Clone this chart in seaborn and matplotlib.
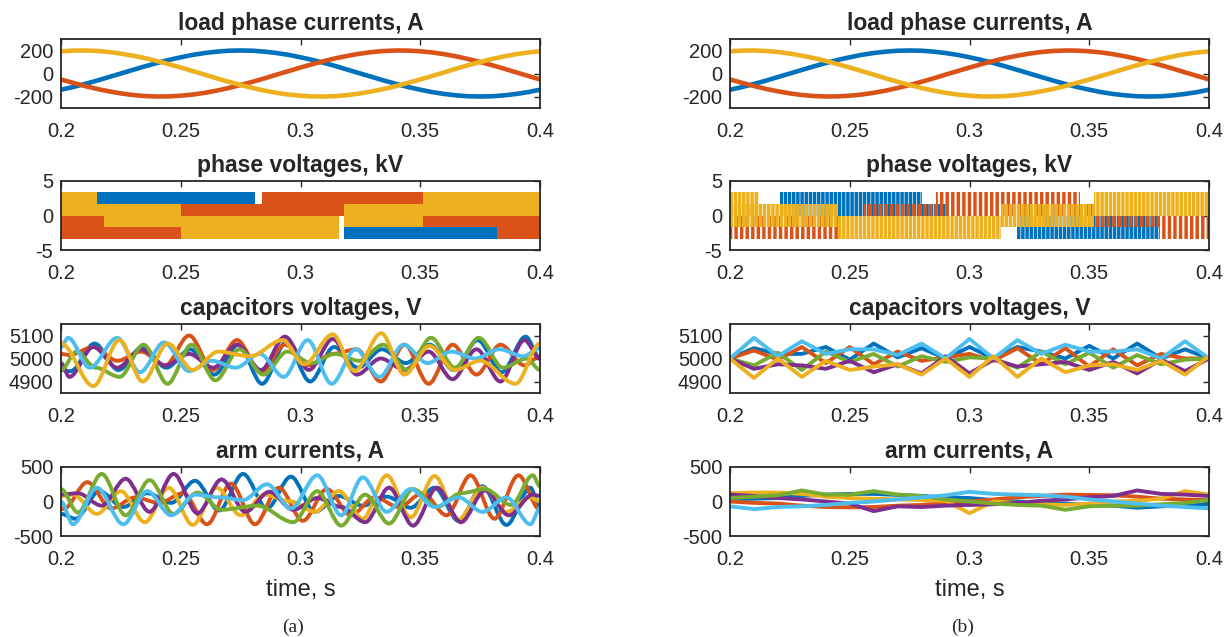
import matplotlib
matplotlib.use('Agg')
import matplotlib.pyplot as plt
from matplotlib.path import Path
from matplotlib.patches import PathPatch
import seaborn as sns
import pandas as pd

sns.set_theme(style='white')
plt.rcParams['font.family'] = ['Liberation Sans', 'DejaVu Sans']
plt.rcParams['axes.unicode_minus'] = False

colores = ['#0072BD', '#D95319', '#EDB120', '#7E2F8E', '#77AC30', '#4DBEEE']

# corrientes de carga (iguales en (a) y (b)), muestras cada 5 ms
t_carga = [0.2 + 0.005 * k for k in range(41)]
i_carga_a = [-141, -118, -91, -62, -31, 0, 31, 62, 91, 118, 141, 162, 178, 190, 198, 200, 198, 190, 178, 162,
             141, 118, 91, 62, 31, 0, -31, -62, -91, -118, -141, -162, -178, -190, -198, -200, -198, -190, -178, -162, -141]
i_carga_b = [-52, -81, -109, -134, -155, -173, -187, -196, -200, -199, -193, -183, -168, -149, -126, -100, -72, -42, -10, 21,
             52, 81, 109, 134, 155, 173, 187, 196, 200, 199, 193, 183, 168, 149, 126, 100, 72, 42, 10, -21, -52]
i_carga_c = [193, 199, 200, 196, 187, 173, 155, 134, 109, 81, 52, 21, -10, -42, -72, -100, -126, -149, -168, -183,
             -193, -199, -200, -196, -187, -173, -155, -134, -109, -81, -52, -21, 10, 42, 72, 100, 126, 149, 168, 183, 193]

# tensiones de fase (a): tramos (inicio, fin, nivel bajo, nivel alto) en kV
vf_a_fase1 = [(0.200, 0.215, -1.7, 0.0), (0.215, 0.281, 1.7, 3.4), (0.281, 0.318, 0.0, 1.7),
              (0.318, 0.382, -3.4, -1.7), (0.382, 0.400, -1.7, 0.0)]
vf_a_fase2 = [(0.200, 0.218, -3.4, 0.0), (0.218, 0.250, -3.4, -1.7), (0.250, 0.284, 0.0, 1.7),
              (0.284, 0.318, 0.0, 3.4), (0.318, 0.351, 1.7, 3.4), (0.351, 0.382, -1.7, 0.0), (0.382, 0.400, -3.4, 0.0)]
vf_a_fase3 = [(0.200, 0.215, 0.0, 3.4), (0.215, 0.218, 0.0, 1.7), (0.218, 0.250, -1.7, 1.7),
              (0.250, 0.316, -3.4, 0.0), (0.318, 0.351, -1.7, 1.7), (0.351, 0.400, 0.0, 3.4)]

# tensiones de fase (b)
vf_b_fase1 = [(0.221, 0.280, 0.0, 3.4), (0.280, 0.290, 0.0, 1.7), (0.320, 0.379, -3.4, 0.0)]
vf_b_fase2 = [(0.200, 0.246, -3.4, 0.0), (0.256, 0.286, 0.0, 1.7), (0.286, 0.346, 0.0, 3.4),
              (0.346, 0.352, 0.0, 1.7), (0.352, 0.379, -1.7, 0.0), (0.379, 0.400, -3.4, 0.0)]
vf_b_fase3 = [(0.200, 0.212, 0.0, 3.4), (0.200, 0.245, -1.7, 1.7), (0.245, 0.313, -3.4, 0.0),
              (0.313, 0.352, -1.7, 1.7), (0.352, 0.400, 0.0, 3.4)]

# tensiones de condensadores (a): extremos (tiempo, valor)
tc_a1 = [0.2, 0.204, 0.214, 0.224, 0.234, 0.244, 0.254, 0.264, 0.274, 0.284, 0.294, 0.304, 0.314, 0.324, 0.334, 0.344, 0.354, 0.364, 0.374, 0.384, 0.394, 0.4]
vc_a1 = [4950, 4945, 5065, 4950, 5050, 4960, 5040, 4930, 5060, 4890, 5070, 4900, 5050, 4960, 5040, 4980, 5060, 4950, 5080, 4940, 5095, 5000]
tc_a2 = [0.2, 0.2035, 0.2135, 0.2235, 0.2335, 0.2435, 0.2535, 0.2635, 0.2735, 0.2835, 0.2935, 0.3035, 0.3135, 0.3235, 0.3335, 0.3435, 0.3535, 0.3635, 0.3735, 0.3835, 0.3935, 0.4]
vc_a2 = [5020, 5015, 5050, 4990, 5030, 4970, 5100, 4950, 5080, 4940, 5060, 4970, 5020, 5040, 4900, 5060, 4890, 5060, 4930, 5060, 4970, 5010]
tc_a3 = [0.2, 0.2135, 0.2244, 0.2341, 0.2446, 0.255, 0.2656, 0.279, 0.2925, 0.3015, 0.3135, 0.3225, 0.3337, 0.3434, 0.3539, 0.3644, 0.375, 0.3898, 0.4]
vc_a3 = [5065, 4880, 5080, 4900, 5065, 4950, 5030, 5010, 5080, 4975, 5105, 4945, 5110, 4930, 5055, 4950, 4990, 4890, 5065]
tc_a4 = [0.2, 0.2035, 0.2135, 0.2235, 0.2335, 0.2435, 0.2535, 0.2635, 0.2735, 0.2835, 0.2935, 0.3035, 0.3135, 0.3235, 0.3335, 0.3435, 0.3535, 0.3635, 0.3735, 0.3835, 0.3935, 0.4]
vc_a4 = [4980, 4920, 5050, 4960, 5040, 4970, 5020, 4960, 5060, 4950, 5095, 4950, 5085, 4930, 5000, 4950, 5030, 4910, 5040, 4900, 5080, 5000]
tc_a5 = [0.2, 0.2065, 0.2145, 0.2245, 0.2345, 0.2445, 0.2545, 0.2645, 0.2745, 0.2845, 0.2945, 0.3045, 0.3145, 0.3245, 0.3345, 0.3445, 0.3545, 0.3645, 0.3745, 0.3845, 0.3945, 0.4]
vc_a5 = [4950, 5030, 4960, 4920, 5060, 4890, 5060, 4905, 5040, 4930, 5030, 4980, 5020, 4990, 5060, 4950, 5090, 4960, 5090, 4960, 5000, 4950]
tc_a6 = [0.2, 0.203, 0.212, 0.2235, 0.233, 0.243, 0.2535, 0.263, 0.273, 0.283, 0.293, 0.303, 0.313, 0.323, 0.333, 0.343, 0.353, 0.363, 0.373, 0.383, 0.393, 0.4]
vc_a6 = [5050, 5090, 4960, 5090, 4940, 5070, 4945, 4990, 4960, 5020, 4920, 5080, 4890, 5040, 4920, 5060, 4980, 5030, 5000, 5040, 5010, 5045]

# corrientes de brazo (a): extremos (tiempo, valor)
tb_a1 = [0.2, 0.206, 0.216, 0.226, 0.236, 0.246, 0.256, 0.266, 0.276, 0.286, 0.296, 0.306, 0.316, 0.326, 0.336, 0.346, 0.356, 0.366, 0.376, 0.386, 0.396, 0.4]
ib_a1 = [-180, -250, 150, -80, 120, -20, 300, -130, 400, -100, 360, -150, 80, -60, 70, -90, 200, -280, 220, -340, 200, -100]
tb_a2 = [0.2, 0.201, 0.211, 0.221, 0.231, 0.241, 0.251, 0.261, 0.271, 0.281, 0.291, 0.301, 0.311, 0.321, 0.331, 0.341, 0.351, 0.361, 0.371, 0.381, 0.391, 0.4]
ib_a2 = [-100, -110, 280, -100, 60, -20, 120, -330, 260, -330, 200, -280, 180, -200, 60, -80, 120, -200, 380, -250, 380, -120]
tb_a3 = [0.2, 0.205, 0.215, 0.225, 0.235, 0.245, 0.255, 0.265, 0.275, 0.285, 0.296, 0.306, 0.316, 0.326, 0.336, 0.346, 0.356, 0.366, 0.376, 0.386, 0.396, 0.4]
ib_a3 = [80, 100, -180, 150, -300, 200, -340, 200, -200, 100, 0, -150, 150, -250, 380, -230, 370, -260, 200, -150, 60, 0]
tb_a4 = [0.2, 0.207, 0.217, 0.227, 0.237, 0.247, 0.257, 0.267, 0.277, 0.287, 0.297, 0.307, 0.317, 0.327, 0.337, 0.347, 0.357, 0.367, 0.377, 0.387, 0.397, 0.4]
ib_a4 = [100, 120, -60, 330, -150, 400, -170, 320, -150, 140, -120, 50, -80, -300, 200, -350, 200, -300, 160, -200, 100, 80]
tb_a5 = [0.2, 0.207, 0.217, 0.227, 0.237, 0.247, 0.257, 0.267, 0.282, 0.297, 0.307, 0.317, 0.327, 0.337, 0.347, 0.357, 0.367, 0.377, 0.388, 0.397, 0.4]
ib_a5 = [180, -160, 400, -200, 310, -180, 130, -120, -60, -300, 150, -350, 100, -320, 180, -80, 120, 180, -50, 380, 220]
tb_a6 = [0.2, 0.205, 0.215, 0.226, 0.236, 0.246, 0.256, 0.266, 0.276, 0.286, 0.296, 0.307, 0.317, 0.326, 0.336, 0.346, 0.356, 0.366, 0.376, 0.386, 0.396, 0.4]
ib_a6 = [0, -330, 200, -330, 150, -200, 100, 60, 20, 250, -100, 380, -200, 350, -150, 180, -80, 60, -150, 60, -330, -100]

# tensiones de condensadores (b): vertices cada 10 ms
t_b = [0.2 + 0.01 * k for k in range(21)]
vc_b1 = [5000, 5045, 5020, 5020, 5050, 4995, 5065, 5005, 5045, 5000, 5050, 5000, 5050, 5030, 5000, 5055, 5000, 5065, 5000, 5040, 5000]
vc_b2 = [5000, 5035, 4995, 5050, 4980, 5050, 4975, 5030, 4990, 5005, 5020, 4990, 5045, 4975, 5045, 4965, 5040, 4970, 5020, 5000, 5000]
vc_b3 = [5000, 4915, 5000, 4920, 4990, 4950, 4965, 4975, 4930, 5000, 4920, 5010, 4920, 5000, 4940, 4970, 4975, 4950, 4990, 4930, 5010]
vc_b4 = [5000, 4955, 4975, 4970, 4955, 4990, 4940, 4975, 4935, 5010, 4935, 4995, 4965, 4975, 4985, 4950, 4985, 4935, 4995, 4945, 5000]
vc_b5 = [5000, 4970, 5025, 4950, 5030, 4985, 5020, 4965, 5010, 4985, 5005, 5000, 4960, 5030, 4975, 5025, 4960, 5015, 4975, 4995, 5000]
vc_b6 = [5000, 5090, 5010, 5075, 5020, 5040, 5040, 5015, 5065, 5000, 5085, 5000, 5080, 5020, 5060, 5030, 5030, 5040, 5000, 5075, 5000]

# corrientes de brazo (b)
ib_b1 = [30, 40, 50, 80, 100, 110, 110, 95, 80, 60, 50, 20, 0, -20, -30, -50, -60, -90, -70, -60, -40]
ib_b2 = [0, -20, -30, -60, -80, -85, -80, -60, -50, -20, 0, 30, 60, 80, 100, 95, 90, 70, 40, 30, 20]
ib_b3 = [120, 130, 130, 110, 70, 50, 40, 30, 20, 10, -170, 0, -20, -40, -50, -30, 0, 10, 40, 150, 100]
ib_b4 = [100, 80, 50, 30, 0, -30, -140, -70, -80, -60, -50, -40, -20, 10, 30, 60, 80, 160, 110, 100, 80]
ib_b5 = [50, 70, 90, 160, 100, 100, 150, 100, 80, 30, 0, -30, -50, -60, -120, -70, -60, -60, -40, -20, 20]
ib_b6 = [-70, -110, -80, -70, -50, -20, 0, 30, 60, 90, 140, 110, 100, 90, 70, 30, 0, -30, -60, -80, -100]

ticks_x = [0.2, 0.25, 0.3, 0.35, 0.4]
etiquetas_x = ['0.2', '0.25', '0.3', '0.35', '0.4']


def curva_suave(ax, tiempos, valores, color, lw=2.8):
    # curva con tangente horizontal en cada extremo
    verts = [(tiempos[0], valores[0])]
    codes = [Path.MOVETO]
    for i in range(1, len(tiempos)):
        t0, t1 = tiempos[i - 1], tiempos[i]
        dt = t1 - t0
        verts += [(t0 + dt / 3, valores[i - 1]), (t1 - dt / 3, valores[i]), (t1, valores[i])]
        codes += [Path.CURVE4] * 3
    ax.add_patch(PathPatch(Path(verts, codes), fill=False, edgecolor=color, lw=lw,
                           capstyle='butt', joinstyle='round', clip_on=True))


def formato(ax, titulo, ylim, yticks, ylabels):
    ax.set_xlim(0.2, 0.4)
    ax.set_ylim(*ylim)
    ax.set_xticks(ticks_x)
    ax.set_xticklabels(etiquetas_x)
    ax.set_yticks(yticks)
    ax.set_yticklabels(ylabels)
    ax.set_xlabel('')
    ax.set_ylabel('')
    ax.tick_params(direction='in', length=4, width=1, top=True, right=True,
                   labelsize=14.5, colors='#262626')
    ax.tick_params(axis='x', pad=10)
    ax.tick_params(axis='y', pad=5.5)
    for s in ax.spines.values():
        s.set_visible(True)
        s.set_linewidth(1.3)
        s.set_color('#262626')
    ax.set_title(titulo, fontsize=16.5, fontweight='bold', pad=6.5)
    if ax.get_legend() is not None:
        ax.get_legend().remove()


fig = plt.figure(figsize=(12.3, 6.37), dpi=100)
x_col = [61 / 1230, 730 / 1230]
ancho = 479 / 1230
tops = [39, 181, 324, 467]
alto = 69

ejes = [[fig.add_axes([x_col[c], 1 - (tops[r] + alto) / 637, ancho, alto / 637]) for r in range(4)] for c in range(2)]

df_carga = pd.DataFrame({'t': t_carga * 3,
                         'i': i_carga_a + i_carga_b + i_carga_c,
                         'fase': ['a'] * 41 + ['b'] * 41 + ['c'] * 41})

for c in range(2):
    ax = ejes[c][0]
    sns.lineplot(data=df_carga, x='t', y='i', hue='fase', palette=colores[:3], lw=3.3, ax=ax, legend=False)
    formato(ax, 'load phase currents, A', (-300, 300), [-200, 0, 200], ['-200', '0', '200'])

# tensiones de fase
ax = ejes[0][1]
for fase, color in zip([vf_a_fase1, vf_a_fase2, vf_a_fase3], colores[:3]):
    for t0, t1, lo, hi in fase:
        ax.fill_between([t0, t1], [lo, lo], [hi, hi], color=color, lw=0)
formato(ax, 'phase voltages, kV', (-5, 5), [-5, 0, 5], ['-5', '0', '5'])

# (b): pulsos de conmutacion mas lentos -> franjas verticales
plt.rcParams['hatch.linewidth'] = 2.5
ax = ejes[1][1]
for fase, color, patron in zip([vf_b_fase1, vf_b_fase2, vf_b_fase3], colores[:3], ['||||', '|||', '||||']):
    for t0, t1, lo, hi in fase:
        ax.fill_between([t0, t1], [lo, lo], [hi, hi], facecolor='none', edgecolor=color, hatch=patron, lw=0)
formato(ax, 'phase voltages, kV', (-5, 5), [-5, 0, 5], ['-5', '0', '5'])

# tensiones de condensadores
ax = ejes[0][2]
for tt, vv, color in zip([tc_a1, tc_a2, tc_a4, tc_a5, tc_a6, tc_a3],
                         [vc_a1, vc_a2, vc_a4, vc_a5, vc_a6, vc_a3],
                         [colores[0], colores[1], colores[3], colores[4], colores[5], colores[2]]):
    curva_suave(ax, tt, vv, color)
formato(ax, 'capacitors voltages, V', (4850, 5150), [4900, 5000, 5100], ['4900', '5000', '5100'])

ax = ejes[1][2]
df_cb = pd.DataFrame({'t': t_b * 6,
                      'v': vc_b1 + vc_b2 + vc_b5 + vc_b4 + vc_b6 + vc_b3,
                      'serie': sum([[k] * 21 for k in ['1', '2', '5', '4', '6', '3']], [])})
sns.lineplot(data=df_cb, x='t', y='v', hue='serie',
             palette=[colores[0], colores[1], colores[4], colores[3], colores[5], colores[2]],
             lw=2.8, ax=ax, legend=False)
formato(ax, 'capacitors voltages, V', (4850, 5150), [4900, 5000, 5100], ['4900', '5000', '5100'])

# corrientes de brazo
ax = ejes[0][3]
for tt, vv, color in zip([tb_a1, tb_a2, tb_a3, tb_a4, tb_a5, tb_a6],
                         [ib_a1, ib_a2, ib_a3, ib_a4, ib_a5, ib_a6], colores):
    curva_suave(ax, tt, vv, color)
formato(ax, 'arm currents, A', (-500, 500), [-500, 0, 500], ['-500', '0', '500'])

ax = ejes[1][3]
df_ib = pd.DataFrame({'t': t_b * 6,
                      'i': ib_b1 + ib_b2 + ib_b3 + ib_b4 + ib_b5 + ib_b6,
                      'serie': sum([[k] * 21 for k in '123456'], [])})
sns.lineplot(data=df_ib, x='t', y='i', hue='serie', palette=colores, lw=2.8, ax=ax, legend=False)
formato(ax, 'arm currents, A', (-500, 500), [-500, 0, 500], ['-500', '0', '500'])

for c in range(2):
    ejes[c][3].set_xlabel('time, s', fontsize=17, color='#262626', labelpad=7)

fig.text(293 / 1230, 1 - 627 / 637, '(a)', ha='center', va='center', fontsize=14, family='Liberation Serif')
fig.text(963 / 1230, 1 - 627 / 637, '(b)', ha='center', va='center', fontsize=14, family='Liberation Serif')

fig.savefig('out.png', dpi=100, facecolor='white')
